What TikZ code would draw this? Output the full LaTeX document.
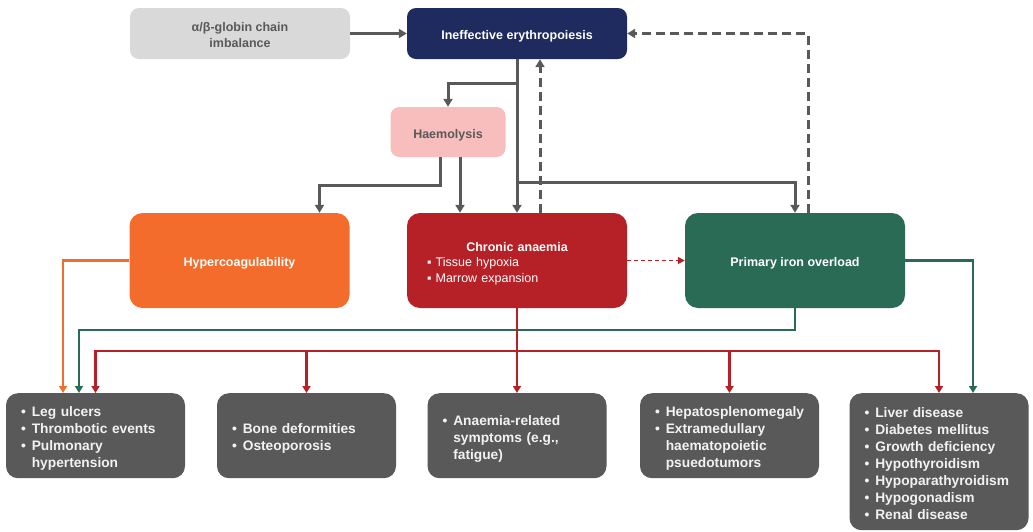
\documentclass[tikz,border=0pt]{standalone}
\usepackage{fontspec}
\setmainfont{Liberation Sans}
\usetikzlibrary{arrows.meta}
\definecolor{MyGrey}{HTML}{595959}
\definecolor{MyLight}{HTML}{D9D9D9}
\definecolor{MyNavy}{HTML}{1F2B5E}
\definecolor{MyPink}{HTML}{F8BDBD}
\definecolor{MyOrange}{HTML}{F36C2C}
\definecolor{MyRed}{HTML}{B52126}
\definecolor{MyGreen}{HTML}{2A6B56}
\definecolor{MyWhite}{HTML}{F2F2F2}
\tikzset{
	box/.style={rounded corners=9pt, inner sep=0pt, align=center, font=\fontsize{12.5}{15.5}\selectfont\bfseries},
	topbox/.style={box, minimum width=220pt, minimum height=51pt},
	midbox/.style={box, rounded corners=13pt, minimum width=220pt, minimum height=95pt, text=white},
	endbox/.style={rounded corners=12pt, fill=MyGrey, text=MyWhite, inner xsep=15pt, inner ysep=0pt, text width=149pt, minimum height=85pt, align=left, anchor=north, font=\fontsize{13.75}{17}\selectfont\bfseries},
	link/.style={MyGrey, line width=3pt, -{Triangle[length=8pt,width=9pt]}},
	flow/.style={line width=2.4pt, -{Triangle[length=7pt,width=8pt]}},
}
% first-line struts push the text a little lower in its box
\newcommand{\tup}{\rule{0pt}{15pt}}
\newcommand{\bup}{\rule{0pt}{18pt}}
\newcommand{\blist}[1]{\begin{tabular}{@{}l@{\hspace{6pt}}l@{}}\bup#1\end{tabular}}

\begin{document}
\begin{tikzpicture}[x=1pt, y=-1pt]
		\useasboundingbox (0,0) rectangle (1033,531);
		
		% top row
		\node[topbox, fill=MyLight, text=MyGrey] (gc) at (240,33.5) {\rule{0pt}{12pt}α/β-globin chain\\imbalance};
		\node[topbox, fill=MyNavy, text=white] (ie) at (517,33.5) {\tup Ineffective erythropoiesis};
		\node[box, fill=MyPink, text=MyGrey, minimum width=115pt, minimum height=50pt] (hm) at (448,132) {\tup Haemolysis};
		
		% middle row
		\node[midbox, fill=MyOrange] (hc) at (239.5,260.5) {\tup Hypercoagulability};
		\node[midbox, fill=MyRed, text width=180pt, inner xsep=20pt, align=left] (ca) at (517,260.5)
			{\tup\makebox[180pt]{Chronic anaemia}\\ \mdseries ▪ Tissue hypoxia\\ \mdseries ▪ Marrow expansion};
		\node[midbox, fill=MyGreen] (io) at (795,260.5) {\tup Primary iron overload};
		
		% outcomes
		\node[endbox] (b1) at (95.5,393) {\blist{• & Leg ulcers\\ • & Thrombotic events\\ • & Pulmonary\\ & hypertension}};
		\node[endbox] (b2) at (306.5,393) {\blist{• & Bone deformities\\ • & Osteoporosis}};
		\node[endbox] (b3) at (517,393) {\blist{• & Anaemia-related\\ & symptoms (e.g.,\\ & fatigue)}};
		\node[endbox] (b4) at (729.5,393) {\blist{• & Hepatosplenomegaly\\ • & Extramedullary\\ & haematopoietic\\ & psuedotumors}};
		\node[endbox, minimum height=137pt] (b5) at (939,393) {\blist{• & Liver disease\\ • & Diabetes mellitus\\ • & Growth deficiency\\ • & Hypothyroidism\\ • & Hypoparathyroidism\\ • & Hypogonadism\\ • & Renal disease}};
		
		\coordinate (j1) at (517,83);
		\coordinate (j2) at (517,182);
		\coordinate (j3) at (517,351);
		
		% grey links
		\draw[link] (gc) -- (ie);
		\draw[link] (ie.south) -- (ca.north);
		\draw[link] (j1) -| (hm.north);
		\draw[link] (j2) -| (io.north);
		\draw[link] ([xshift=-8pt]hm.south) -- ++(0,28) -| ([xshift=80pt]hc.north);
		\draw[link] ([xshift=12pt]hm.south) -- ([xshift=12pt]hm.south |- ca.north);
		
		% feedback
		\draw[link, dash pattern=on 9pt off 5pt] ([xshift=23pt]ca.north) -- ([xshift=23pt]ie.south);
		\draw[link, dash pattern=on 9pt off 5pt] ([xshift=13pt]io.north) |- (ie.east);
		\draw[MyRed, line width=1.5pt, dash pattern=on 4pt off 3pt, -{Triangle[length=7pt,width=7pt]}] (ca) -- (io);
		
		% to outcomes
		\draw[flow, MyOrange] (hc.west) -| ([xshift=-32.5pt]b1.north);
		\draw[flow, MyGreen] (io.south) -- ++(0,22) -| ([xshift=-16.5pt]b1.north);
		\draw[flow, MyGreen] (io.east) -| ([xshift=34pt]b5.north);
		\draw[flow, MyRed] (ca.south) -- (b3.north);
		\foreach \b in {b1,b2,b4,b5}
			\draw[flow, MyRed] (j3) -| (\b.north);
		
	\end{tikzpicture}
\end{document}
